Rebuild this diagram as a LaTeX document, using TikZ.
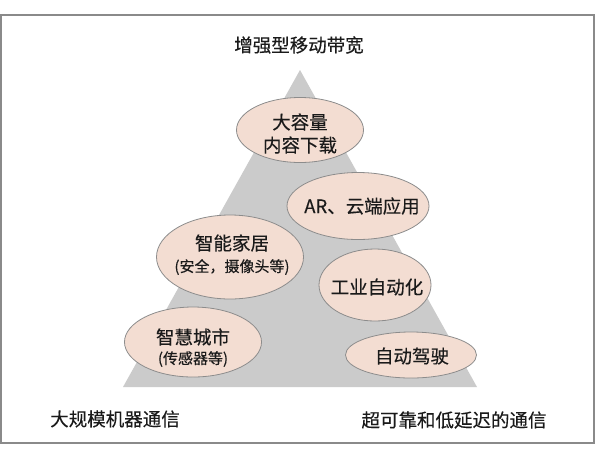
\documentclass[tikz,border=0pt]{standalone}
\usepackage{fontspec}
\setmainfont{Noto Sans CJK SC}
\newfontfamily\cjkheavy[FakeBold=0.3]{Noto Sans CJK SC}
\usetikzlibrary{shapes.geometric}
\definecolor{tri}{HTML}{CBCBCB}
\definecolor{ellfill}{HTML}{F3DDD2}
\definecolor{ellline}{HTML}{8C8C8C}
\definecolor{frame}{HTML}{8A8A8A}
\definecolor{txt}{HTML}{1A1A1A}
\tikzset{
  bubble/.style={ellipse, draw=ellline, line width=0.8pt, fill=ellfill, inner sep=0pt},
  big/.style={font=\cjkheavy\fontsize{18.5}{23}\selectfont, text=txt, align=center},
  small/.style={font=\cjkheavy\fontsize{15}{18}\selectfont, text=txt},
}
\begin{document}
\begin{tikzpicture}[x=1pt,y=-1pt]
\useasboundingbox (0,0) rectangle (596,448);
\fill[white] (0,0) rectangle (596,448);
\draw[frame, line width=1.2pt] (1,15) rectangle (594,443);
% triangle
\fill[tri] (300,70) -- (477,387) -- (123,387) -- cycle;
% bubbles
\node[bubble, minimum width=127pt, minimum height=65pt] (e1) at (300,130) {};
\node[bubble, minimum width=142pt, minimum height=67pt] (e2) at (358,206) {};
\node[bubble, minimum width=147pt, minimum height=84pt] (e3) at (230,257) {};
\node[bubble, minimum width=112pt, minimum height=72pt] (e5) at (375,285) {};
\node[bubble, minimum width=137pt, minimum height=70pt] (e4) at (193,342) {};
\node[bubble, minimum width=131pt, minimum height=46pt] (e6) at (411,355) {};
% texts
\node[big] (t1a) at (300,122) {大容量};
\node[big] (t1b) at (300,145) {内容下载};
\node[big] (t2) at (362,206) {AR、云端应用};
\node[big] (t3a) at (232,243) {智能家居};
\node[small] (t3b) at (232,267) {(安全，摄像头等)};
\node[big] (t4a) at (193,337) {智慧城市};
\node[small] (t4b) at (193,359) {(传感器等)};
\node[big] (t5) at (377,287) {工业自动化};
\node[big] (t6) at (412,356) {自动驾驶};
\node[big] (top) at (299,45) {增强型移动带宽};
\node[big] (bl) at (115,419) {大规模机器通信};
\node[big] (br) at (454,420) {超可靠和低延迟的通信};
\end{tikzpicture}
\end{document}
